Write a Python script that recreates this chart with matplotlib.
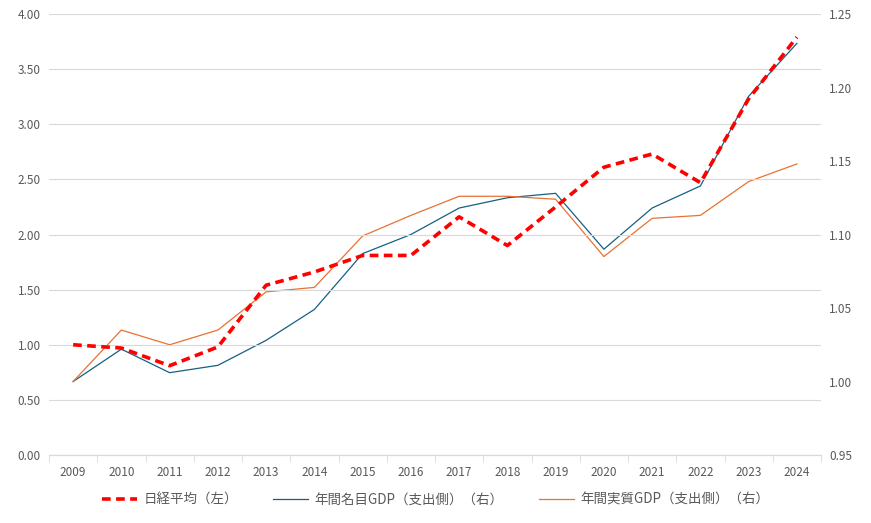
import matplotlib
matplotlib.use("Agg")
import matplotlib.pyplot as plt
import numpy as np

plt.rcParams['font.family'] = ['Noto Sans CJK JP', 'DejaVu Sans']

# ---- Data ----
years = ["2009", "2010", "2011", "2012", "2013", "2014", "2015", "2016",
         "2017", "2018", "2019", "2020", "2021", "2022", "2023", "2024"]
nikkei = [1.00, 0.97, 0.81, 0.98, 1.54, 1.66, 1.81, 1.81,
          2.16, 1.90, 2.25, 2.61, 2.73, 2.47, 3.23, 3.79]
nominal_gdp = [1.000, 1.022, 1.006, 1.011, 1.028, 1.049, 1.087, 1.100,
               1.118, 1.125, 1.128, 1.090, 1.118, 1.133, 1.194, 1.230]
real_gdp = [1.000, 1.035, 1.025, 1.035, 1.061, 1.064, 1.099, 1.113,
            1.126, 1.126, 1.124, 1.085, 1.111, 1.113, 1.136, 1.148]

labels = ["日経平均（左）", "年間名目GDP（支出側）（右）", "年間実質GDP（支出側）（右）"]

TEXT = "#595959"
GRID = "#d9d9d9"

x = np.arange(len(years))

fig = plt.figure(figsize=(8.71, 5.23), dpi=100)
ax = fig.add_axes([49 / 871, 1 - 455 / 523, (821 - 49) / 871, (455 - 14) / 523])
ax2 = ax.twinx()

l1, = ax.plot(x, nikkei, color="#ff0000", lw=2.6, linestyle=(0, (2.4, 1.5)),
              zorder=5, label=labels[0])
l2, = ax2.plot(x, nominal_gdp, color="#156082", lw=0.9, label=labels[1])
l3, = ax2.plot(x, real_gdp, color="#E97132", lw=0.9, label=labels[2])
ax.set_zorder(ax2.get_zorder() + 1)
ax.patch.set_visible(False)

ax.set_xlim(-0.5, len(years) - 0.5)
ax.set_ylim(0, 4)
ax.set_yticks(np.arange(0, 4.01, 0.5))
ax.set_yticklabels([f"{v:.2f}" for v in np.arange(0, 4.01, 0.5)])
ax2.set_ylim(0.95, 1.25)
ax2.set_yticks(np.arange(0.95, 1.2501, 0.05))
ax2.set_yticklabels([f"{v:.2f}" for v in np.arange(0.95, 1.2501, 0.05)])

ax.set_xticks(x)
ax.set_xticklabels(years)
ax.set_xticks(np.arange(-0.5, len(years)), minor=True)
ax.tick_params(axis="x", which="major", length=0, pad=8, labelsize=8.5, colors=TEXT)
ax.tick_params(axis="x", which="minor", length=5, color=GRID)
ax.tick_params(axis="y", length=0, labelsize=8.5, colors=TEXT, pad=6)
ax2.tick_params(axis="y", length=0, labelsize=8.5, colors=TEXT, pad=6)

ax.grid(axis="y", color=GRID, lw=0.8)
ax.set_axisbelow(True)
for a in (ax, ax2):
    for s in ("top", "left", "right"):
        a.spines[s].set_visible(False)
    a.spines["bottom"].set_color(GRID)

leg = fig.legend(handles=[l1, l2, l3], loc="center", bbox_to_anchor=(0.5, 1 - 500 / 523),
                 ncol=3, frameon=False, fontsize=9.7, handlelength=2.6,
                 columnspacing=2.6, handletextpad=0.5)
for t in leg.get_texts():
    t.set_color(TEXT)

fig.savefig("out.png", dpi=100)
